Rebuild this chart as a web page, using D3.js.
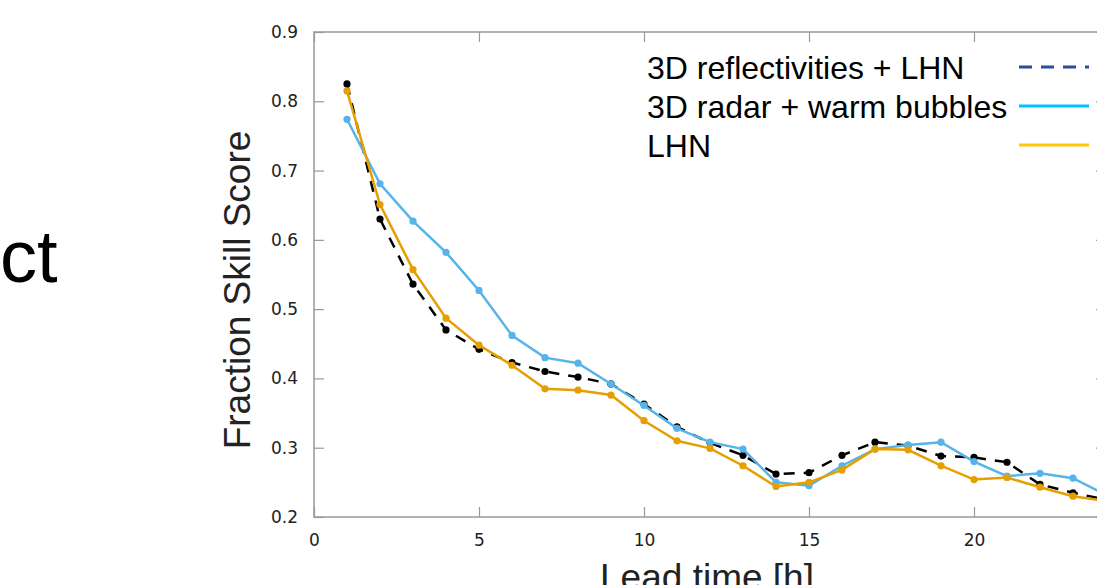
<!DOCTYPE html>
<html>
<head>
<meta charset="utf-8">
<script src="https://cdn.jsdelivr.net/npm/d3@7/dist/d3.min.js"></script>
<style>
  html, body { margin: 0; padding: 0; background: #fff; }
  svg { display: block; }
</style>
</head>
<body>
<svg id="chart" width="1097" height="585"></svg>
<script>
// ---- data ----
const leadTimes = [1,2,3,4,5,6,7,8,9,10,11,12,13,14,15,16,17,18,19,20,21,22,23,24];
const reflLHN = [0.825,0.630,0.536,0.470,0.442,0.423,0.410,0.402,0.392,0.363,0.330,0.307,0.289,0.262,0.264,0.289,0.308,0.303,0.288,0.286,0.279,0.247,0.235,0.225];
const radarBubbles = [0.774,0.681,0.627,0.582,0.527,0.462,0.430,0.422,0.392,0.361,0.328,0.308,0.298,0.250,0.245,0.274,0.298,0.304,0.308,0.280,0.259,0.263,0.256,0.232];
const lhnOnly = [0.815,0.651,0.557,0.487,0.448,0.419,0.385,0.383,0.376,0.339,0.310,0.299,0.274,0.244,0.250,0.268,0.298,0.297,0.274,0.254,0.257,0.243,0.230,0.223];
const xTicks = [0,5,10,15,20];
const yTicks = [0.2,0.3,0.4,0.5,0.6,0.7,0.8,0.9];
const legendLabels = ["3D reflectivities + LHN", "3D radar + warm bubbles", "LHN"];

// ---- layout ----
const svg = d3.select("#chart");
const pLeft = 314, pRight = 1106, pTop = 32, pBottom = 517;
const x = d3.scaleLinear().domain([0, 24]).range([pLeft, pRight]);
const y = d3.scaleLinear().domain([0.2, 0.9]).range([pBottom, pTop]);
const axisColor = "#999";

// clipped slide fragment text
svg.append("text").attr("x", 0).attr("y", 282)
  .attr("font-family", "Liberation Sans, Arial, sans-serif")
  .attr("font-size", 74).attr("fill", "#000").text("ct");

// frame
svg.append("rect").attr("x", pLeft).attr("y", pTop)
  .attr("width", pRight - pLeft).attr("height", pBottom - pTop)
  .attr("fill", "none").attr("stroke", axisColor).attr("stroke-width", 1.5);

function styleAxis(g) {
  g.selectAll(".domain").remove();
  g.selectAll(".tick line").attr("stroke", axisColor).attr("stroke-width", 1.2);
  g.selectAll(".tick text").attr("fill", "#222")
    .attr("font-family", "DejaVu Sans, sans-serif").attr("font-size", 17);
}

svg.append("g").attr("transform", `translate(${pLeft},0)`)
  .call(d3.axisLeft(y).tickValues(yTicks).tickFormat(d3.format(".1f")).tickSize(-10).tickPadding(16))
  .call(styleAxis);
svg.append("g").attr("transform", `translate(${pRight},0)`)
  .call(d3.axisRight(y).tickValues(yTicks).tickFormat("").tickSize(-10))
  .call(styleAxis);
svg.append("g").attr("transform", `translate(0,${pBottom})`)
  .call(d3.axisBottom(x).tickValues(xTicks).tickFormat(d3.format("d")).tickSize(-10).tickPadding(17))
  .call(styleAxis);
svg.append("g").attr("transform", `translate(0,${pTop})`)
  .call(d3.axisTop(x).tickValues(xTicks).tickFormat("").tickSize(-10))
  .call(styleAxis);

// axis titles
svg.append("text")
  .attr("transform", `translate(250,290) rotate(-90)`)
  .attr("text-anchor", "middle")
  .attr("font-family", "Liberation Sans, Arial, sans-serif")
  .attr("font-size", 37).attr("fill", "#222").text("Fraction Skill Score");
svg.append("text").attr("x", 707).attr("y", 590)
  .attr("text-anchor", "middle")
  .attr("font-family", "Liberation Sans, Arial, sans-serif")
  .attr("font-size", 37).attr("fill", "#222").text("Lead time [h]");

// series
const series = [
  { values: reflLHN, color: "#000000", dash: "11,9" },
  { values: radarBubbles, color: "#56B4E9", dash: null },
  { values: lhnOnly, color: "#E69F00", dash: null }
];
const line = d3.line().x(d => x(d[0])).y(d => y(d[1]));
series.forEach(s => {
  const pts = leadTimes.map((t, i) => [t, s.values[i]]);
  svg.append("path").datum(pts).attr("d", line)
    .attr("fill", "none").attr("stroke", s.color).attr("stroke-width", 2.5)
    .attr("stroke-dasharray", s.dash);
  svg.append("g").selectAll("circle").data(pts).join("circle")
    .attr("cx", d => x(d[0])).attr("cy", d => y(d[1])).attr("r", 3.6)
    .attr("fill", s.color);
});

// legend
const legendColors = ["#2B4C9B", "#00C4F2", "#FFC60B"];
const legendDash = ["13,9", null, null];
const legendBase = [79, 118, 157];
legendLabels.forEach((lab, i) => {
  svg.append("text").attr("x", 647).attr("y", legendBase[i])
    .attr("font-family", "Liberation Sans, Arial, sans-serif")
    .attr("font-size", 32).attr("fill", "#000").text(lab);
  svg.append("line").attr("x1", 1019).attr("x2", 1089)
    .attr("y1", legendBase[i] - 12).attr("y2", legendBase[i] - 12)
    .attr("stroke", legendColors[i]).attr("stroke-width", 3)
    .attr("stroke-dasharray", legendDash[i]);
});
</script>
</body>
</html>
